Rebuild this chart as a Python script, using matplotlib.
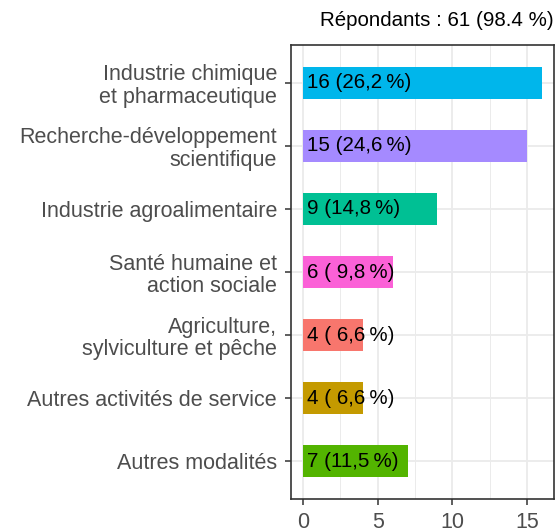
import matplotlib
matplotlib.use("Agg")
import matplotlib.pyplot as plt
from matplotlib.ticker import MultipleLocator

categories = [
    "Industrie chimique\net pharmaceutique",
    "Recherche-développement\nscientifique",
    "Industrie agroalimentaire",
    "Santé humaine et\naction sociale",
    "Agriculture,\nsylviculture et pêche",
    "Autres activités de service",
    "Autres modalités",
]
counts = [16, 15, 9, 6, 4, 4, 7]
percents = ["26,2", "24,6", "14,8", " 9,8", " 6,6", " 6,6", "11,5"]
colors = ["#00B6EB", "#A58AFF", "#00C094", "#FB61D7", "#F8766D", "#C49A00", "#53B400"]
title = "Répondants : 61 (98.4 %)"

plt.rcParams['font.family'] = ['Liberation Sans', 'DejaVu Sans']

fig = plt.figure(figsize=(5.55, 5.31), dpi=100)
ax = fig.add_axes([291 / 555, 1 - 499 / 531, 263 / 555, 454 / 531])

n = len(categories)
ypos = list(range(n, 0, -1))
ax.barh(ypos, counts, height=0.5, color=colors, zorder=2)

for y, c, p in zip(ypos, counts, percents):
    ax.annotate(f"{c} ({p}\u2009%)", (0, y), xytext=(3, 0), textcoords="offset points",
                ha="left", va="center", fontsize=14.8, color="black", zorder=3)

ax.set_xlim(-0.8, 16.8)
ax.set_ylim(0.4, n + 0.6)
ax.set_yticks(ypos)
ax.set_yticklabels(categories, fontsize=15.5, color="#4D4D4D", linespacing=1.08,
                   multialignment="right")
ax.xaxis.set_major_locator(MultipleLocator(5))
ax.xaxis.set_minor_locator(MultipleLocator(2.5))
ax.tick_params(axis="x", labelsize=15.5, colors="#4D4D4D", length=4, width=1.1, color="#333333", pad=5)
ax.tick_params(axis="y", length=4, width=1.1, color="#333333", pad=6)
ax.tick_params(axis="x", which="minor", length=0)

ax.grid(axis="x", which="major", color="#EBEBEB", linewidth=1.3, zorder=0)
ax.grid(axis="x", which="minor", color="#EBEBEB", linewidth=0.7, zorder=0)
ax.grid(axis="y", which="major", color="#EBEBEB", linewidth=1.3, zorder=0)
ax.set_axisbelow(True)
for s in ax.spines.values():
    s.set_color("#333333")
    s.set_linewidth(1.2)

fig.text(554 / 555, 1 - 20 / 531, title, ha="right", va="center", fontsize=14.8, color="black")

fig.savefig("out.png", dpi=100, facecolor="white")
